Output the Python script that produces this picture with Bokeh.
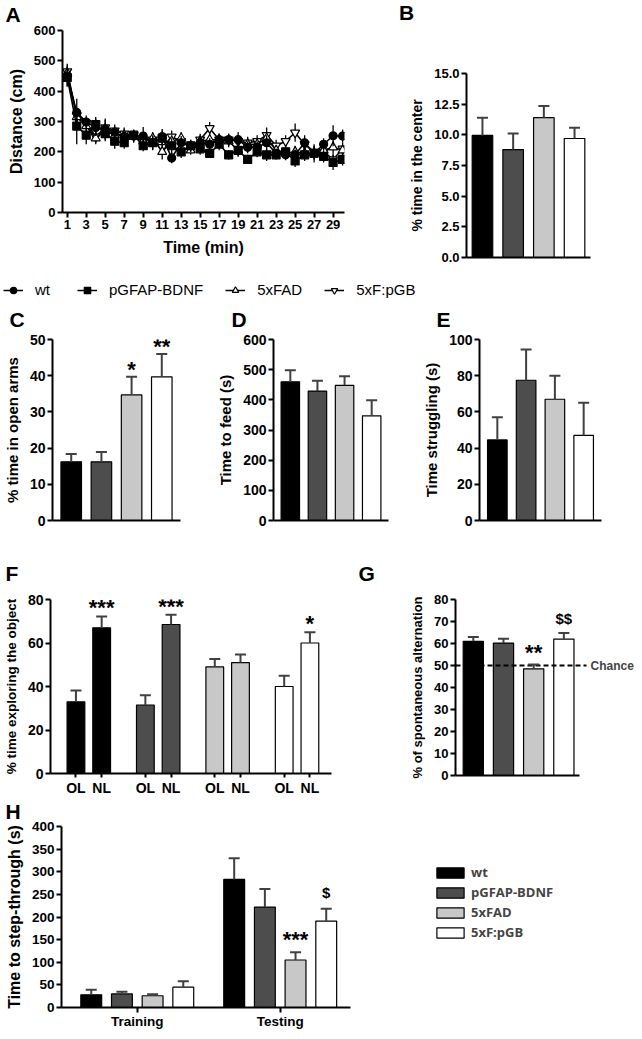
from bokeh.plotting import figure
from bokeh.layouts import column, row
from bokeh.models import (ColumnDataSource, Whisker, TeeHead, Label, LabelSet, Legend,
                          LegendItem, FixedTicker, Range1d, PrintfTickFormatter, Title, Div)
from bokeh.core.properties import value
from bokeh.embed import file_html
from bokeh.resources import INLINE

# ---------------- data ----------------
minutes = list(range(1, 31))
wt_dist = [450, 330, 298, 280, 275, 265, 250, 252, 252, 230, 250, 180, 230, 220, 230,
           225, 240, 240, 240, 215, 215, 230, 195, 190, 190, 230, 195, 225, 253, 252]
wt_sem = [35, 45, 22, 28, 35, 18, 18, 18, 30, 22, 25, 18, 22, 20, 22,
          20, 20, 20, 25, 20, 20, 25, 15, 18, 18, 25, 20, 20, 35, 22]
pg_dist = [445, 285, 255, 290, 260, 235, 230, 255, 220, 230, 245, 220, 200, 220, 210,
           195, 225, 190, 205, 175, 200, 190, 190, 200, 170, 190, 195, 185, 165, 175]
pg_sem = [30, 60, 30, 25, 25, 25, 20, 18, 18, 25, 25, 25, 20, 20, 20,
          15, 20, 15, 20, 15, 18, 20, 15, 20, 20, 20, 30, 20, 25, 20]
fad_dist = [460, 315, 285, 245, 270, 255, 255, 250, 235, 245, 200, 235, 245, 205, 235,
            240, 240, 235, 205, 225, 225, 245, 205, 195, 200, 195, 195, 205, 215, 205]
fad_sem = [20, 25, 20, 20, 25, 20, 20, 20, 20, 20, 25, 20, 20, 15, 20,
           20, 20, 20, 20, 20, 20, 20, 15, 15, 20, 20, 20, 20, 20, 15]
pgb_dist = [465, 320, 295, 250, 280, 270, 260, 255, 240, 240, 215, 250, 235, 215, 240,
            278, 240, 240, 235, 230, 235, 255, 220, 235, 263, 225, 200, 200, 175, 210]
pgb_sem = [25, 25, 20, 20, 25, 20, 20, 18, 20, 20, 20, 20, 20, 20, 20,
           20, 20, 20, 20, 20, 20, 25, 20, 20, 30, 20, 20, 20, 20, 20]

genotypes = ["wt", "pGFAP-BDNF", "5xFAD", "5xF:pGB"]
center_mean = [9.95, 8.8, 11.4, 9.7]
center_sem = [1.45, 1.3, 0.95, 0.87]
openarms_mean = [16.2, 16.2, 34.7, 39.7]
openarms_sem = [2.2, 2.7, 5.0, 6.3]
openarms_sig = ["", "", "*", "**"]
feed_mean = [460, 429, 448, 347]
feed_sem = [38, 34, 30, 52]
struggle_mean = [44.5, 77.5, 67, 47]
struggle_sem = [12.5, 17, 13, 18]
location_labels = ["OL", "NL"]
nlp_ol = [33, 31.5, 49, 40]
nlp_ol_sem = [5.2, 4.5, 3.7, 5.0]
nlp_nl = [67, 68.5, 51, 60]
nlp_nl_sem = [5.2, 4.5, 3.7, 5.0]
nlp_nl_sig = ["***", "***", "", "*"]
alt_mean = [61, 60.2, 48.5, 62]
alt_sem = [2.0, 2.0, 2.0, 2.8]
alt_sig = ["", "", "**", "$$"]
chance_level = 50
sessions = ["Training", "Testing"]
train_mean = [28, 30, 26, 45]
train_sem = [11, 5, 3.5, 13]
test_mean = [283, 222, 105, 191]
test_sem = [47, 40, 17, 27]
test_sig = ["", "", "***", "$"]

# ---------------- style ----------------
FONT = "Liberation Sans"
FILLS = ["#000000", "#4d4d4d", "#c8c8c8", "#ffffff"]
ERR = "#404040"


def make_fig(canvas, frame, xr, yr):
    cx0, cy0, cx1, cy1 = canvas
    fl, ft, fr, fb = frame
    p = figure(width=cx1 - cx0, height=cy1 - cy0,
               x_range=Range1d(*xr), y_range=Range1d(*yr),
               output_backend="svg", toolbar_location=None,
               min_border_left=fl - cx0, min_border_right=cx1 - fr,
               min_border_top=ft - cy0, min_border_bottom=cy1 - fb)
    p.frame_align = False
    p.outline_line_color = None
    p.grid.visible = False
    p.border_fill_color = "white"
    p.background_fill_color = "white"
    return p


def style_axes(p, tick_px, label_px, xtick_px=None):
    for ax in p.axis:
        ax.axis_line_width = 2
        ax.axis_line_color = "black"
        ax.major_tick_line_width = 2
        ax.major_tick_line_color = "black"
        ax.major_tick_out = 5
        ax.major_tick_in = 0
        ax.minor_tick_line_color = None
        ax.major_label_text_font = FONT
        ax.major_label_text_font_style = "bold"
        ax.major_label_text_font_size = f"{tick_px}px"
        ax.major_label_text_color = "black"
        ax.major_label_standoff = 2
        ax.axis_label_text_font = FONT
        ax.axis_label_text_font_style = "bold"
        ax.axis_label_text_font_size = f"{label_px}px"
        ax.axis_label_text_color = "black"
        ax.axis_label_standoff = 6
    if xtick_px is not None:
        p.xaxis.major_label_text_font_size = f"{xtick_px}px"


def hide_xticks(p):
    p.xaxis.ticker = FixedTicker(ticks=[])
    p.xaxis.major_label_text_font_size = "0px"
    p.xaxis.major_tick_line_color = None


def letter(p, frame, text, lx, standoff):
    p.add_layout(Title(text=text, align="left", offset=lx - frame[0], vertical_align="top",
                       standoff=standoff, text_font=FONT, text_font_style="bold",
                       text_font_size="21px", text_color="black"), "above")


def bars(p, xs, means, sems, width, fills):
    src = ColumnDataSource(dict(x=xs, top=means, upper=[m + s for m, s in zip(means, sems)],
                                fill=fills))
    r = p.vbar(x="x", top="top", bottom=0, width=width, source=src, fill_color="fill",
               line_color="black", line_width=1.2)
    p.add_layout(Whisker(source=src, base="x", lower="top", upper="upper", dimension="height",
                         line_color=ERR, line_width=2,
                         upper_head=TeeHead(size=11, line_color=ERR, line_width=2),
                         lower_head=None, level="glyph"))
    return src, r


def sig_labels(p, xs, tops, texts, star_off, dollar_off):
    sizes = ["15px" if t.startswith("$") else "22px" for t in texts]
    offs = [dollar_off if t.startswith("$") else star_off for t in texts]
    src = ColumnDataSource(dict(x=xs, y=tops, t=texts, s=sizes, o=offs))
    p.add_layout(LabelSet(x="x", y="y", text="t", source=src, text_align="center",
                          text_baseline="alphabetic", y_offset="o",
                          text_font=value(FONT), text_font_style="bold",
                          text_font_size="s", text_color="black"))


idx = [i + 1 for i in range(len(genotypes))]

# ---------------- A ----------------
fA = (62, 27, 344, 212)
pA = make_fig((0, 0, 398, 280), fA, (0.5, 30.2), (0, 600))
series = [
    (pgb_dist, pgb_sem, "inverted_triangle", "white", 9, "5xF:pGB"),
    (fad_dist, fad_sem, "triangle", "white", 9, "5xFAD"),
    (pg_dist, pg_sem, "square", "black", 8, "pGFAP-BDNF"),
    (wt_dist, wt_sem, "circle", "black", 8, "wt"),
]
sources_A = {}
for vals, sems, mk, fill, sz, name in series:
    src = ColumnDataSource(dict(x=minutes, y=vals,
                                lo=[v - s for v, s in zip(vals, sems)],
                                hi=[v + s for v, s in zip(vals, sems)]))
    sources_A[name] = (src, mk, fill)
    pA.segment(x0="x", y0="lo", x1="x", y1="hi", source=src, line_color="black",
               line_width=1.3)
    pA.line(x="x", y="y", source=src, line_color="black", line_width=1.6)
    pA.scatter(x="x", y="y", source=src, marker=mk, size=sz, fill_color=fill,
               line_color="black", line_width=1.2)
pA.xaxis.ticker = FixedTicker(ticks=minutes[::2])
pA.yaxis.ticker = FixedTicker(ticks=[0, 100, 200, 300, 400, 500, 600])
pA.xaxis.axis_label = "Time (min)"
pA.yaxis.axis_label = "Distance (cm)"
style_axes(pA, 13, 16)
pA.xaxis.axis_label_standoff = 7
pA.yaxis.axis_label_standoff = 6
letter(pA, fA, "A", 5, 5)

# legend strip for panel A (same series, drawn outside its visible ranges)
pL = figure(width=634, height=20, x_range=Range1d(0, 1), y_range=Range1d(0, 1),
            x_axis_type=None, y_axis_type=None, output_backend="svg",
            toolbar_location=None, min_border=0)
pL.frame_align = False
pL.outline_line_color = None
pL.grid.visible = False
leg_items = []
for g in genotypes:
    src, mk, fill = sources_A[g]
    rl = pL.line(x="x", y="y", source=src, line_color="black", line_width=1.5)
    rm = pL.scatter(x="x", y="y", source=src, marker=mk, size=7, fill_color=fill,
                    line_color="black", line_width=1.2)
    leg_items.append(LegendItem(label=g, renderers=[rl, rm]))
legA = Legend(items=leg_items, orientation="horizontal", location=(3, 2),
              glyph_width=20, glyph_height=16, label_height=16, label_standoff=12,
              spacing=22, padding=0, margin=0, border_line_color=None,
              background_fill_alpha=0, label_text_font=FONT,
              label_text_font_size="15px", label_text_color="black")
pL.add_layout(legA, "center")

# ---------------- B ----------------
fB = (466, 73, 590, 257)
divB = Div(text="B", width=236, height=24, margin=(0, 0, 0, 0),
           styles={"font-family": FONT, "font-weight": "bold", "font-size": "21px",
                   "line-height": "21px", "padding-left": "1px", "padding-top": "2px",
                   "color": "black"})
pB = make_fig((398, 24, 634, 280), fB, (0.48, 4.52), (0, 15))
bars(pB, idx, center_mean, center_sem, 0.67, FILLS)
pB.yaxis.ticker = FixedTicker(ticks=[0, 2.5, 5, 7.5, 10, 12.5, 15])
pB.yaxis.formatter = PrintfTickFormatter(format="%.1f")
pB.yaxis.axis_label = "% time in the center"
style_axes(pB, 13, 14)
hide_xticks(pB)

# ---------------- C ----------------
fC = (48, 336, 180, 520)
pC = make_fig((0, 300, 214, 548), fC, (0.38, 4.62), (0, 50))
bars(pC, idx, openarms_mean, openarms_sem, 0.68, FILLS)
sig_labels(pC, idx, [m + s for m, s in zip(openarms_mean, openarms_sem)], openarms_sig, 0, 9)
pC.yaxis.ticker = FixedTicker(ticks=[0, 10, 20, 30, 40, 50])
pC.yaxis.axis_label = "% time in open arms"
style_axes(pC, 14, 15)
hide_xticks(pC)
letter(pC, fC, "C", 5, 14)

# ---------------- D ----------------
fD = (256, 336, 388, 520)
pD = make_fig((214, 300, 420, 548), fD, (0.38, 4.62), (0, 600))
bars(pD, idx, feed_mean, feed_sem, 0.68, FILLS)
pD.yaxis.ticker = FixedTicker(ticks=[0, 100, 200, 300, 400, 500, 600])
pD.yaxis.axis_label = "Time to feed (s)"
style_axes(pD, 14, 15)
hide_xticks(pD)
letter(pD, fD, "D", 214, 14)

# ---------------- E ----------------
fE = (468, 336, 601, 520)
pE = make_fig((420, 300, 634, 548), fE, (0.38, 4.62), (0, 100))
bars(pE, idx, struggle_mean, struggle_sem, 0.68, FILLS)
pE.yaxis.ticker = FixedTicker(ticks=[0, 20, 40, 60, 80, 100])
pE.yaxis.axis_label = "Time struggling (s)"
style_axes(pE, 14, 15)
hide_xticks(pE)
letter(pE, fE, "E", 425, 14)

# ---------------- F ----------------
fF = (50, 597, 331, 775)
pF = make_fig((0, 548, 356, 798), fF, (-99, 994), (0, 80))
ol_x = [i * 270 for i in range(len(genotypes))]
nl_x = [x + 100 for x in ol_x]
bars(pF, ol_x, nlp_ol, nlp_ol_sem, 69, FILLS)
bars(pF, nl_x, nlp_nl, nlp_nl_sem, 69, FILLS)
sig_labels(pF, nl_x, [m + s for m, s in zip(nlp_nl, nlp_nl_sem)], nlp_nl_sig, 1, 9)
pF.xaxis.ticker = FixedTicker(ticks=sorted(ol_x + nl_x))
pF.xaxis.major_label_overrides = {**{x: location_labels[0] for x in ol_x},
                                  **{x: location_labels[1] for x in nl_x}}
pF.yaxis.ticker = FixedTicker(ticks=[0, 20, 40, 60, 80])
pF.yaxis.axis_label = "% time exploring the object"
style_axes(pF, 14, 13.5, xtick_px=14)
pF.xaxis.major_tick_out = 4
letter(pF, fF, "F", 5, 26)

# ---------------- G ----------------
fG = (455, 597, 634, 775)
pG = make_fig((356, 548, 634, 798), fG, (0.41, 6.34), (0, 80))
bars(pG, idx, alt_mean, alt_sem, 0.67, FILLS)
sig_labels(pG, idx, [m + s for m, s in zip(alt_mean, alt_sem)], alt_sig, 4, 9)
chance_end = 4.75
pG.segment(x0=[pG.x_range.start], y0=[chance_level], x1=[chance_end], y1=[chance_level],
           line_color="black", line_width=2, line_dash="5 3")
pG.add_layout(Label(x=chance_end, y=chance_level, x_offset=4, text="Chance", text_font=FONT,
                    text_font_style="bold", text_font_size="12px", text_baseline="middle"))
pG.yaxis.ticker = FixedTicker(ticks=[0, 10, 20, 30, 40, 50, 60, 70, 80])
pG.yaxis.axis_label = "% of spontaneous alternation"
style_axes(pG, 13, 13)
hide_xticks(pG)
pG.xaxis.bounds = (0.41, 4.52)
letter(pG, fG, "G", 358, 26)

# ---------------- H ----------------
fH = (61, 823, 634, 1007)
pH = make_fig((0, 798, 634, 1031), fH, (-97, 1771), (0, 400))
rendH = []
for i, g in enumerate(genotypes):
    xs = [i * 100, 466 + i * 100]
    _, r = bars(pH, xs, [train_mean[i], test_mean[i]], [train_sem[i], test_sem[i]], 68,
                [FILLS[i], FILLS[i]])
    rendH.append(r)
sig_labels(pH, [466 + i * 100 for i in range(4)],
           [m + s for m, s in zip(test_mean, test_sem)], test_sig, 5, 11)
pH.xaxis.ticker = FixedTicker(ticks=[150, 616])
pH.xaxis.major_label_overrides = {150: sessions[0], 616: sessions[1]}
pH.xaxis.bounds = (-97, 845)
pH.yaxis.ticker = FixedTicker(ticks=[0, 50, 100, 150, 200, 250, 300, 350, 400])
pH.yaxis.axis_label = "Time to step-through (s)"
style_axes(pH, 13.5, 16, xtick_px=13.5)
pH.xaxis.major_label_standoff = 1
legH = Legend(items=[LegendItem(label=g, renderers=[r]) for g, r in zip(genotypes, rendH)],
              location=(433 - fH[0], fH[3] - 941), glyph_width=34, glyph_height=13,
              label_height=18, spacing=2, label_standoff=4, padding=0, margin=0,
              border_line_color=None, background_fill_alpha=0,
              label_text_font="Open Sans", label_text_font_style="bold",
              label_text_font_size="13px")
pH.add_layout(legH, "center")
letter(pH, fH, "H", 5, 3)

layout = column(row(pA, column(divB, pB)), pL, row(pC, pD, pE), row(pF, pG), pH)
open("out.html", "w").write(file_html(layout, INLINE))
